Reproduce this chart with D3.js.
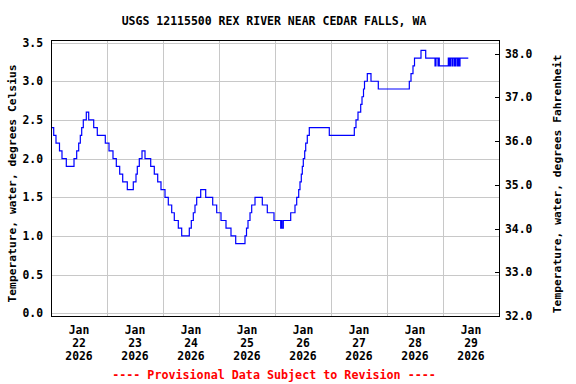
<!DOCTYPE html>
<html><head><meta charset="utf-8">
<script src="https://cdn.jsdelivr.net/npm/d3@7"></script>
<style>body{margin:0;background:#fff}text{font-family:"DejaVu Sans Mono",monospace;font-weight:bold;}</style>
</head><body><svg id="c" width="576" height="384"></svg>
<script>
const title = "USGS 12115500 REX RIVER NEAR CEDAR FALLS, WA";
const footer = "---- Provisional Data Subject to Revision ----";
const yLabelLeft = "Temperature, water, degrees Celsius";
const yLabelRight = "Temperature, water, degrees Fahrenheit";
const startDate = "2026-01-22T00:00:00Z";
const endDate = "2026-01-30T00:00:00Z";
// hours since Jan 22 00:00 at which each value begins
const hours = [0,1.16,2.14,3.64,4.71,6.56,9.86,11.01,11.87,12.56,13.16,13.84,15.13,16.16,18.30,19.84,23.27,24.86,26.57,27.99,29.44,30.73,32.70,35.27,36.43,36.99,37.84,39.00,40.29,42.73,44.27,45.73,47.14,48.86,50.27,51.73,52.84,54.56,56.01,59.27,60.13,60.99,61.71,62.44,64.16,66.30,69.30,71.01,72.86,75.00,77.14,79.16,83.14,83.79,84.43,85.29,86.01,87.43,90.56,92.70,95.57,98.44,98.79,99.00,99.56,102.73,104.57,105.30,106.16,106.71,107.27,107.70,108.13,108.73,109.16,109.84,110.70,119.27,129.99,130.71,131.57,132.73,133.29,133.93,134.36,135.56,137.14,140.27,153.56,154.29,155.14,155.79,158.57,160.59,164.57,165.00,165.86,166.16,166.41,170.27,170.79,171.21,171.86,172.29,172.93,173.36,174.00,174.43,174.86,175.29,178.84];
const tempC = [2.4,2.3,2.2,2.1,2.0,1.9,2.0,2.1,2.2,2.3,2.4,2.5,2.6,2.5,2.4,2.3,2.2,2.1,2.0,1.9,1.8,1.7,1.6,1.7,1.8,1.9,2.0,2.1,2.0,1.9,1.8,1.7,1.6,1.5,1.4,1.3,1.2,1.1,1.0,1.1,1.2,1.3,1.4,1.5,1.6,1.5,1.4,1.3,1.2,1.1,1.0,0.9,1.0,1.1,1.2,1.3,1.4,1.5,1.4,1.3,1.2,1.1,1.2,1.1,1.2,1.3,1.4,1.5,1.6,1.7,1.8,1.9,2.0,2.1,2.2,2.3,2.4,2.3,2.4,2.5,2.6,2.7,2.8,2.9,3.0,3.1,3.0,2.9,3.0,3.1,3.2,3.3,3.4,3.3,3.2,3.3,3.2,3.3,3.2,3.3,3.2,3.3,3.2,3.3,3.2,3.3,3.2,3.3,3.2,3.3,3.3];
const celsiusTicks = [0.0,0.5,1.0,1.5,2.0,2.5,3.0,3.5];
const fahrenheitTicks = [32,33,34,35,36,37,38];
const dayLabels = ["22","23","24","25","26","27","28","29"];
const monthLabel = "Jan";
const yearLabel = "2026";
const cDomain = [-0.035, 3.54];
const fDomain = [32.0, 38.32];

const svg = d3.select("#c");
const L=51, R=499, T=39.5, B=316;
const t0 = new Date(startDate), t1 = new Date(endDate);
const x = d3.scaleTime().domain([t0,t1]).range([L,R]);
const y = d3.scaleLinear().domain(cDomain).range([B,T]);
const yF = d3.scaleLinear().domain(fDomain).range([B,T]);
const fs = "11.4px";

// gridlines
const g = svg.append("g").attr("shape-rendering","crispEdges").attr("stroke","#c8c8c8").attr("stroke-width",1);
g.selectAll(".h").data(celsiusTicks).join("line")
 .attr("x1",L).attr("x2",R).attr("y1",d=>Math.round(y(d))+0.5).attr("y2",d=>Math.round(y(d))+0.5);
const days = d3.utcDay.range(d3.utcDay.offset(t0,1), t1);
g.selectAll(".v").data(days).join("line")
 .attr("y1",T).attr("y2",B).attr("x1",d=>Math.round(x(d))+0.5).attr("x2",d=>Math.round(x(d))+0.5);

// data line
const pts = hours.map((h,i)=>({t:new Date(t0.getTime()+h*3600e3), v:tempC[i]}));
svg.append("path").datum(pts)
 .attr("fill","none").attr("stroke","#0000ff").attr("stroke-width",1.2)
 .attr("d", d3.line().x(d=>x(d.t)).y(d=>y(d.v)).curve(d3.curveStepAfter));

// border
svg.append("rect").attr("x",L+0.5).attr("y",Math.round(T)+0.5).attr("width",R-L).attr("height",B-Math.round(T))
 .attr("fill","none").attr("stroke","#000").attr("shape-rendering","crispEdges");

// left axis
const ax = svg.append("g").attr("transform",`translate(${L},0)`)
 .call(d3.axisLeft(y).tickValues(celsiusTicks).tickFormat(d3.format(".1f")).tickSize(0).tickPadding(8));
ax.select(".domain").remove();
ax.selectAll("text").style("font-size",fs).attr("fill","#000");

// right axis
const axr = svg.append("g").attr("transform",`translate(${R},0)`)
 .call(d3.axisRight(yF).tickValues(fahrenheitTicks).tickFormat(d3.format(".1f")).tickSize(-4).tickPadding(6));
axr.select(".domain").remove();
axr.selectAll("line").attr("stroke","#000").attr("shape-rendering","crispEdges");
axr.selectAll("text").style("font-size",fs).attr("fill","#000");

// x labels
const xl = svg.append("g");
dayLabels.forEach((lab,i)=>{
  const cx = x(new Date(t0.getTime()+(i*24+12)*3600e3));
  const tx = xl.append("text").attr("text-anchor","middle").style("font-size",fs).attr("x",cx);
  tx.append("tspan").attr("x",cx).attr("y",334).text(monthLabel);
  tx.append("tspan").attr("x",cx).attr("y",347).text(lab);
  tx.append("tspan").attr("x",cx).attr("y",360).text(yearLabel);
});

// title / footer
svg.append("text").attr("x",274).attr("y",25).attr("text-anchor","middle").style("font-size","11.5px").text(title);
svg.append("text").attr("x",274).attr("y",379).attr("text-anchor","middle").attr("fill","#ff0000").style("font-size","11.7px").text(footer);

// axis titles
svg.append("text").attr("transform","translate(15.5,183.5) rotate(-90)").attr("text-anchor","middle").style("font-size","11.3px").text(yLabelLeft);
svg.append("text").attr("transform","translate(561,184) rotate(-90)").attr("text-anchor","middle").style("font-size","11.3px").text(yLabelRight);
</script></body></html>
